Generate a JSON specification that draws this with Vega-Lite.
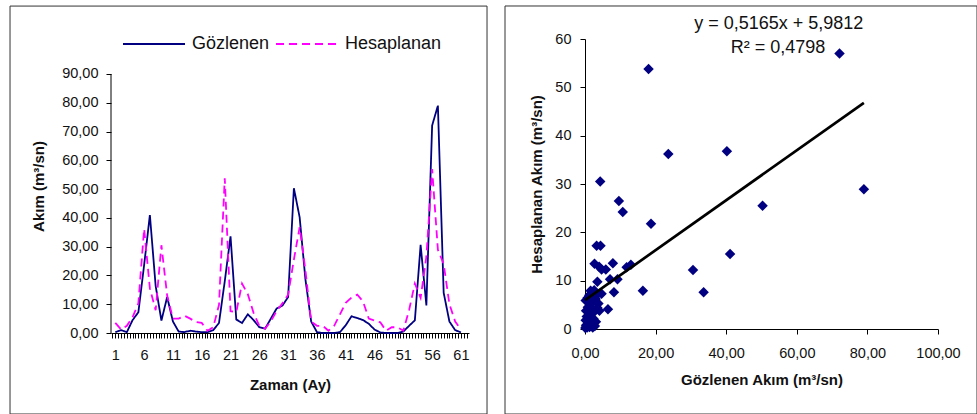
{
  "$schema": "https://vega.github.io/schema/vega-lite/v6.json",
  "padding": {"left": 9, "top": 5, "right": 0, "bottom": 0},
  "spacing": 16,
  "background": "white",
  "config": {
    "font": "Liberation Sans",
    "view": {"stroke": null},
    "axis": {
      "grid": false,
      "domainColor": "#000",
      "tickColor": "#000",
      "labelColor": "#111",
      "titleColor": "#111",
      "labelFont": "Liberation Sans",
      "titleFont": "Liberation Sans",
      "labelFontSize": 14.5,
      "titleFontSize": 15,
      "titleFontWeight": "bold",
      "tickSize": 5,
      "labelOverlap": false,
      "labelFlush": false,
      "labelBound": false
    }
  },
  "datasets": {
    "seri": [
      {"ay": 1, "Gözlenen": 0.3, "Hesaplanan": 3.5},
      {"ay": 2, "Gözlenen": 1.0, "Hesaplanan": 1.2},
      {"ay": 3, "Gözlenen": 0.3, "Hesaplanan": 2.5},
      {"ay": 4, "Gözlenen": 4.5, "Hesaplanan": 5.5},
      {"ay": 5, "Gözlenen": 7.2, "Hesaplanan": 10.3},
      {"ay": 6, "Gözlenen": 23.6, "Hesaplanan": 36.2},
      {"ay": 7, "Gözlenen": 41.0, "Hesaplanan": 15.5},
      {"ay": 8, "Gözlenen": 16.4, "Hesaplanan": 7.9},
      {"ay": 9, "Gözlenen": 4.3, "Hesaplanan": 30.5},
      {"ay": 10, "Gözlenen": 12.5, "Hesaplanan": 13.0},
      {"ay": 11, "Gözlenen": 4.0, "Hesaplanan": 5.0},
      {"ay": 12, "Gözlenen": 0.5, "Hesaplanan": 5.0},
      {"ay": 13, "Gözlenen": 0.3, "Hesaplanan": 6.0},
      {"ay": 14, "Gözlenen": 0.8, "Hesaplanan": 5.0},
      {"ay": 15, "Gözlenen": 0.5, "Hesaplanan": 3.8},
      {"ay": 16, "Gözlenen": 0.3, "Hesaplanan": 3.5},
      {"ay": 17, "Gözlenen": 0.3, "Hesaplanan": 0.8},
      {"ay": 18, "Gözlenen": 1.0, "Hesaplanan": 2.0},
      {"ay": 19, "Gözlenen": 3.5, "Hesaplanan": 9.8},
      {"ay": 20, "Gözlenen": 18.0, "Hesaplanan": 53.8},
      {"ay": 21, "Gözlenen": 33.6, "Hesaplanan": 7.6},
      {"ay": 22, "Gözlenen": 4.7, "Hesaplanan": 7.3},
      {"ay": 23, "Gözlenen": 3.5, "Hesaplanan": 17.2},
      {"ay": 24, "Gözlenen": 6.5, "Hesaplanan": 13.5},
      {"ay": 25, "Gözlenen": 4.5, "Hesaplanan": 7.0},
      {"ay": 26, "Gözlenen": 2.0, "Hesaplanan": 2.5},
      {"ay": 27, "Gözlenen": 1.5, "Hesaplanan": 1.5},
      {"ay": 28, "Gözlenen": 5.0, "Hesaplanan": 4.1},
      {"ay": 29, "Gözlenen": 8.5, "Hesaplanan": 7.6},
      {"ay": 30, "Gözlenen": 9.5, "Hesaplanan": 10.3},
      {"ay": 31, "Gözlenen": 12.5, "Hesaplanan": 13.3},
      {"ay": 32, "Gözlenen": 50.3, "Hesaplanan": 25.5},
      {"ay": 33, "Gözlenen": 40.2, "Hesaplanan": 36.8},
      {"ay": 34, "Gözlenen": 18.7, "Hesaplanan": 21.8},
      {"ay": 35, "Gözlenen": 4.0, "Hesaplanan": 4.0},
      {"ay": 36, "Gözlenen": 0.3, "Hesaplanan": 2.5},
      {"ay": 37, "Gözlenen": 0.0, "Hesaplanan": 2.5},
      {"ay": 38, "Gözlenen": 0.0, "Hesaplanan": 0.8},
      {"ay": 39, "Gözlenen": 0.0, "Hesaplanan": 2.5},
      {"ay": 40, "Gözlenen": 0.3, "Hesaplanan": 6.5},
      {"ay": 41, "Gözlenen": 2.7, "Hesaplanan": 10.5},
      {"ay": 42, "Gözlenen": 5.8, "Hesaplanan": 12.3},
      {"ay": 43, "Gözlenen": 5.2, "Hesaplanan": 13.3},
      {"ay": 44, "Gözlenen": 4.5, "Hesaplanan": 11.0},
      {"ay": 45, "Gözlenen": 3.2, "Hesaplanan": 5.0},
      {"ay": 46, "Gözlenen": 1.2, "Hesaplanan": 4.3},
      {"ay": 47, "Gözlenen": 0.2, "Hesaplanan": 3.7},
      {"ay": 48, "Gözlenen": 0.0, "Hesaplanan": 0.8},
      {"ay": 49, "Gözlenen": 0.0, "Hesaplanan": 2.0},
      {"ay": 50, "Gözlenen": 0.0, "Hesaplanan": 2.0},
      {"ay": 51, "Gözlenen": 0.5, "Hesaplanan": 0.8},
      {"ay": 52, "Gözlenen": 2.5, "Hesaplanan": 8.0},
      {"ay": 53, "Gözlenen": 4.4, "Hesaplanan": 17.2},
      {"ay": 54, "Gözlenen": 30.6, "Hesaplanan": 12.2},
      {"ay": 55, "Gözlenen": 9.6, "Hesaplanan": 26.5},
      {"ay": 56, "Gözlenen": 72.1, "Hesaplanan": 57.0},
      {"ay": 57, "Gözlenen": 79.0, "Hesaplanan": 28.9},
      {"ay": 58, "Gözlenen": 14.0, "Hesaplanan": 24.0},
      {"ay": 59, "Gözlenen": 4.0, "Hesaplanan": 10.0},
      {"ay": 60, "Gözlenen": 1.0, "Hesaplanan": 4.0},
      {"ay": 61, "Gözlenen": 0.2, "Hesaplanan": 1.2}
    ],
    "dagilim": [
      {"gozlenen": 72.1, "hesaplanan": 57.0},
      {"gozlenen": 18.0, "hesaplanan": 53.8},
      {"gozlenen": 23.6, "hesaplanan": 36.2},
      {"gozlenen": 40.2, "hesaplanan": 36.8},
      {"gozlenen": 4.3, "hesaplanan": 30.5},
      {"gozlenen": 9.6, "hesaplanan": 26.5},
      {"gozlenen": 10.7, "hesaplanan": 24.2},
      {"gozlenen": 18.7, "hesaplanan": 21.8},
      {"gozlenen": 79.0, "hesaplanan": 28.9},
      {"gozlenen": 50.3, "hesaplanan": 25.5},
      {"gozlenen": 41.1, "hesaplanan": 15.5},
      {"gozlenen": 30.6, "hesaplanan": 12.2},
      {"gozlenen": 33.6, "hesaplanan": 7.6},
      {"gozlenen": 16.4, "hesaplanan": 7.9},
      {"gozlenen": 3.3, "hesaplanan": 17.2},
      {"gozlenen": 4.4, "hesaplanan": 17.2},
      {"gozlenen": 2.7, "hesaplanan": 13.5},
      {"gozlenen": 7.9, "hesaplanan": 13.6},
      {"gozlenen": 11.8, "hesaplanan": 12.8},
      {"gozlenen": 13.0, "hesaplanan": 13.3},
      {"gozlenen": 4.0, "hesaplanan": 12.9},
      {"gozlenen": 4.7, "hesaplanan": 12.3},
      {"gozlenen": 5.9, "hesaplanan": 12.3},
      {"gozlenen": 3.5, "hesaplanan": 9.8},
      {"gozlenen": 7.1, "hesaplanan": 10.3},
      {"gozlenen": 9.2, "hesaplanan": 10.3},
      {"gozlenen": 8.2, "hesaplanan": 7.6},
      {"gozlenen": 6.5, "hesaplanan": 4.1},
      {"gozlenen": 1.6, "hesaplanan": 7.9},
      {"gozlenen": 4.7, "hesaplanan": 7.3},
      {"gozlenen": 0.1, "hesaplanan": 0.2},
      {"gozlenen": 0.3, "hesaplanan": 0.8},
      {"gozlenen": 0.6, "hesaplanan": 0.3},
      {"gozlenen": 0.9, "hesaplanan": 1.2},
      {"gozlenen": 1.3, "hesaplanan": 0.4},
      {"gozlenen": 1.7, "hesaplanan": 0.9},
      {"gozlenen": 2.2, "hesaplanan": 0.3},
      {"gozlenen": 2.8, "hesaplanan": 0.6},
      {"gozlenen": 0.2, "hesaplanan": 1.8},
      {"gozlenen": 0.5, "hesaplanan": 2.6},
      {"gozlenen": 1.1, "hesaplanan": 2.2},
      {"gozlenen": 1.6, "hesaplanan": 3.0},
      {"gozlenen": 2.4, "hesaplanan": 2.1},
      {"gozlenen": 3.1, "hesaplanan": 1.5},
      {"gozlenen": 0.3, "hesaplanan": 3.8},
      {"gozlenen": 0.8, "hesaplanan": 4.5},
      {"gozlenen": 1.4, "hesaplanan": 5.2},
      {"gozlenen": 2.0, "hesaplanan": 4.2},
      {"gozlenen": 2.7, "hesaplanan": 3.6},
      {"gozlenen": 3.5, "hesaplanan": 4.4},
      {"gozlenen": 0.2, "hesaplanan": 5.9},
      {"gozlenen": 0.7, "hesaplanan": 6.4},
      {"gozlenen": 1.2, "hesaplanan": 7.0},
      {"gozlenen": 2.3, "hesaplanan": 5.6},
      {"gozlenen": 3.0, "hesaplanan": 6.2},
      {"gozlenen": 3.8, "hesaplanan": 5.3},
      {"gozlenen": 2.6, "hesaplanan": 8.0},
      {"gozlenen": 3.3, "hesaplanan": 7.0},
      {"gozlenen": 4.1, "hesaplanan": 3.8},
      {"gozlenen": 1.8, "hesaplanan": 6.3},
      {"gozlenen": 0.4, "hesaplanan": 0.5},
      {"gozlenen": 2.0, "hesaplanan": 1.4}
    ],
    "egilim": [
      {"gozlenen": 0, "hesaplanan": 5.9812},
      {"gozlenen": 79.0, "hesaplanan": 46.785}
    ]
  },
  "hconcat": [
    {
      "width": 358,
      "height": 294,
      "layer": [
        {
          "data": {"name": "seri"},
          "transform": [{"fold": ["Gözlenen", "Hesaplanan"], "as": ["seri", "akim"]}],
          "mark": {"type": "line", "strokeWidth": 1.8},
          "encoding": {
            "x": {
              "field": "ay", "type": "quantitative",
              "scale": {"domain": [0.25, 62.4], "nice": false, "zero": false},
              "axis": {"title": "Zaman (Ay)", "tickCount": 124, "labelExpr": "datum.value % 5 == 1 ? format(datum.value, 'd') : ''", "labelOverlap": false, "labelPadding": 10, "titlePadding": 16}
            },
            "y": {
              "field": "akim", "type": "quantitative",
              "scale": {"domain": [0, 102.16], "nice": false},
              "axis": {"title": "Akım (m³/sn)", "values": [0, 10, 20, 30, 40, 50, 60, 70, 80, 90], "domain": false, "labelExpr": "replace(format(datum.value, '.2f'), '.', ',')", "labelOverlap": false, "labelPadding": 8, "titlePadding": 15}
            },
            "color": {
              "field": "seri", "type": "nominal",
              "scale": {"domain": ["Gözlenen", "Hesaplanan"], "range": ["#000080", "#FF00FF"]},
              "legend": {
                "title": null, "orient": "none", "legendX": 11, "legendY": -27,
                "direction": "horizontal", "symbolType": "stroke", "symbolSize": 3844,
                "symbolStrokeWidth": 1.8, "labelFontSize": 18, "labelFont": "Liberation Sans",
                "labelColor": "#111", "labelOffset": 6, "columnPadding": 2
              }
            },
            "strokeDash": {
              "field": "seri", "type": "nominal",
              "scale": {"domain": ["Gözlenen", "Hesaplanan"], "range": [[1, 0], [8, 5]]},
              "legend": {
                "title": null, "orient": "none", "legendX": 11, "legendY": -27,
                "direction": "horizontal", "symbolType": "stroke", "symbolSize": 3844,
                "symbolStrokeWidth": 1.8, "labelFontSize": 18, "labelFont": "Liberation Sans",
                "labelColor": "#111", "labelOffset": 6, "columnPadding": 2
              }
            }
          }
        },
        {
          "data": {"values": [{}]},
          "mark": {"type": "rule", "color": "#000", "strokeWidth": 1},
          "encoding": {
            "x": {"datum": 0.25, "type": "quantitative", "scale": {"domain": [0.25, 62.4], "nice": false, "zero": false},
              "axis": {"title": "Zaman (Ay)", "tickCount": 124, "labelExpr": "datum.value % 5 == 1 ? format(datum.value, 'd') : ''", "labelOverlap": false, "labelPadding": 10, "titlePadding": 16}},
            "y": {"datum": 0, "type": "quantitative", "scale": {"domain": [0, 102.16], "nice": false},
              "axis": {"title": "Akım (m³/sn)", "values": [0, 10, 20, 30, 40, 50, 60, 70, 80, 90], "domain": false, "labelExpr": "replace(format(datum.value, '.2f'), '.', ',')", "labelOverlap": false, "labelPadding": 8, "titlePadding": 15}},
            "y2": {"datum": 90}
          }
        },
        {
          "data": {"values": [{}]},
          "mark": {"type": "rect", "fill": null, "stroke": "#333", "strokeWidth": 1},
          "encoding": {
            "x": {"datum": -17.28, "type": "quantitative", "scale": {"domain": [0.25, 62.4], "nice": false, "zero": false},
              "axis": {"title": "Zaman (Ay)", "tickCount": 124, "labelExpr": "datum.value % 5 == 1 ? format(datum.value, 'd') : ''", "labelOverlap": false, "labelPadding": 10, "titlePadding": 16}},
            "x2": {"datum": 65.53},
            "y": {"datum": 113.6, "type": "quantitative", "scale": {"domain": [0, 102.16], "nice": false},
              "axis": {"title": "Akım (m³/sn)", "values": [0, 10, 20, 30, 40, 50, 60, 70, 80, 90], "domain": false, "labelExpr": "replace(format(datum.value, '.2f'), '.', ',')", "labelOverlap": false, "labelPadding": 8, "titlePadding": 15}},
            "y2": {"datum": -28.15}
          }
        }
      ]
    },
    {
      "width": 353,
      "height": 290,
      "layer": [
        {
          "data": {"name": "dagilim"},
          "mark": {"type": "point", "shape": "diamond", "filled": true, "size": 110, "opacity": 1, "color": "#000080"},
          "encoding": {
            "x": {"field": "gozlenen", "type": "quantitative", "scale": {"domain": [0, 100], "nice": false},
              "axis": {"title": "Gözlenen Akım (m³/sn)", "values": [0, 20, 40, 60, 80, 100], "labelExpr": "replace(format(datum.value, '.2f'), '.', ',')", "labelOverlap": false, "labelPadding": 12, "titlePadding": 13}},
            "y": {"field": "hesaplanan", "type": "quantitative", "scale": {"domain": [0, 60], "nice": false},
              "axis": {"title": "Hesaplanan Akım (m³/sn)", "values": [0, 10, 20, 30, 40, 50, 60], "format": "d", "labelOverlap": false, "labelPadding": 9, "titlePadding": 10}}
          }
        },
        {
          "data": {"name": "egilim"},
          "mark": {"type": "line", "color": "#000", "strokeWidth": 2.7},
          "encoding": {
            "x": {"field": "gozlenen", "type": "quantitative", "scale": {"domain": [0, 100], "nice": false},
              "axis": {"title": "Gözlenen Akım (m³/sn)", "values": [0, 20, 40, 60, 80, 100], "labelExpr": "replace(format(datum.value, '.2f'), '.', ',')", "labelOverlap": false, "labelPadding": 12, "titlePadding": 13}},
            "y": {"field": "hesaplanan", "type": "quantitative", "scale": {"domain": [0, 60], "nice": false},
              "axis": {"title": "Hesaplanan Akım (m³/sn)", "values": [0, 10, 20, 30, 40, 50, 60], "format": "d", "labelOverlap": false, "labelPadding": 9, "titlePadding": 10}}
          }
        },
        {
          "data": {"values": [{}]},
          "mark": {"type": "text", "font": "Liberation Sans", "fontSize": 18, "color": "#111", "align": "center", "baseline": "middle"},
          "encoding": {
            "x": {"datum": 54.9, "type": "quantitative", "scale": {"domain": [0, 100], "nice": false},
              "axis": {"title": "Gözlenen Akım (m³/sn)", "values": [0, 20, 40, 60, 80, 100], "labelExpr": "replace(format(datum.value, '.2f'), '.', ',')", "labelOverlap": false, "labelPadding": 12, "titlePadding": 13}},
            "y": {"datum": 63.05, "type": "quantitative", "scale": {"domain": [0, 60], "nice": false},
              "axis": {"title": "Hesaplanan Akım (m³/sn)", "values": [0, 10, 20, 30, 40, 50, 60], "format": "d", "labelOverlap": false, "labelPadding": 9, "titlePadding": 10}},
            "text": {"value": "y = 0,5165x + 5,9812"}
          }
        },
        {
          "data": {"values": [{}]},
          "mark": {"type": "text", "font": "Liberation Sans", "fontSize": 18, "color": "#111", "align": "center", "baseline": "middle"},
          "encoding": {
            "x": {"datum": 54.7, "type": "quantitative", "scale": {"domain": [0, 100], "nice": false},
              "axis": {"title": "Gözlenen Akım (m³/sn)", "values": [0, 20, 40, 60, 80, 100], "labelExpr": "replace(format(datum.value, '.2f'), '.', ',')", "labelOverlap": false, "labelPadding": 12, "titlePadding": 13}},
            "y": {"datum": 58.2, "type": "quantitative", "scale": {"domain": [0, 60], "nice": false},
              "axis": {"title": "Hesaplanan Akım (m³/sn)", "values": [0, 10, 20, 30, 40, 50, 60], "format": "d", "labelOverlap": false, "labelPadding": 9, "titlePadding": 10}},
            "text": {"value": "R² = 0,4798"}
          }
        },
        {
          "data": {"values": [{}]},
          "mark": {"type": "rect", "fill": null, "stroke": "#333", "strokeWidth": 1},
          "encoding": {
            "x": {"datum": -22.66, "type": "quantitative", "scale": {"domain": [0, 100], "nice": false},
              "axis": {"title": "Gözlenen Akım (m³/sn)", "values": [0, 20, 40, 60, 80, 100], "labelExpr": "replace(format(datum.value, '.2f'), '.', ',')", "labelOverlap": false, "labelPadding": 12, "titlePadding": 13}},
            "x2": {"datum": 111.05},
            "y": {"datum": 66.83, "type": "quantitative", "scale": {"domain": [0, 60], "nice": false},
              "axis": {"title": "Hesaplanan Akım (m³/sn)", "values": [0, 10, 20, 30, 40, 50, 60], "format": "d", "labelOverlap": false, "labelPadding": 9, "titlePadding": 10}},
            "y2": {"datum": -17.59}
          }
        }
      ]
    }
  ]
}
